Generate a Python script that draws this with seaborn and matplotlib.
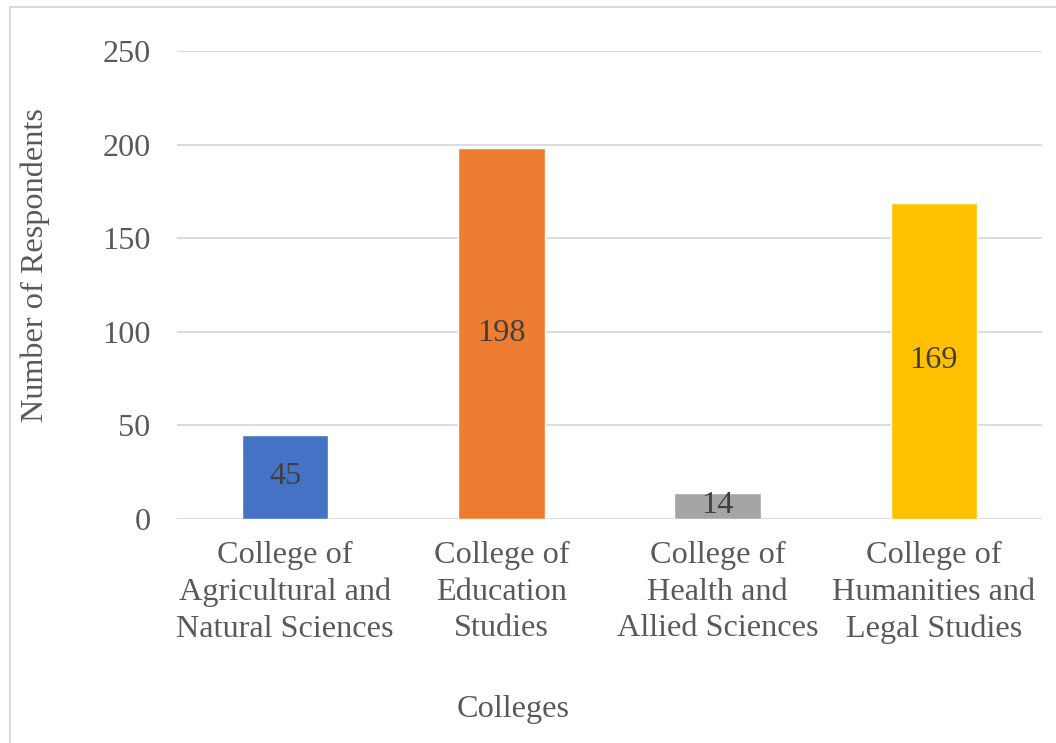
import matplotlib
matplotlib.use("Agg")
import matplotlib.pyplot as plt
import seaborn as sns
import pandas as pd
from matplotlib.patches import Rectangle

categories = ["College of\nAgricultural and\nNatural Sciences",
              "College of\nEducation\nStudies",
              "College of\nHealth and\nAllied Sciences",
              "College of\nHumanities and\nLegal Studies"]
values = [45, 198, 14, 169]
colors = ["#4472C4", "#ED7D31", "#A5A5A5", "#FFC000"]
yticks = [0, 50, 100, 150, 200, 250]

sns.set_theme(style="white")
plt.rcParams['font.family'] = ['Liberation Serif', 'DejaVu Serif']

W, H = 1056, 743
FS = 23.2
fig = plt.figure(figsize=(W/100, H/100), dpi=100)
fig.patch.set_facecolor("white")
fig.patches.append(Rectangle((10/W, -0.2), 1.2, 1.2 - 7/H, transform=fig.transFigure,
                             fill=False, edgecolor="#D9D9D9", linewidth=1.5, zorder=0))

ax = fig.add_axes([177/W, 224/H, 865/W, 468/H])
df = pd.DataFrame({"cat": categories, "val": values})
sns.barplot(data=df, x="cat", y="val", hue="cat", palette=colors, width=0.4,
            legend=False, ax=ax, saturation=1, zorder=3)

ax.set_ylim(0, 250)
ax.set_yticks(yticks)
ax.set_xlim(-0.5, 3.5)
ax.yaxis.grid(True, color="#D9D9D9", linewidth=1.3, zorder=0)
ax.set_axisbelow(True)
for s in ax.spines.values():
    s.set_visible(False)
ax.tick_params(axis="both", length=0, labelsize=FS, colors="#595959")
ax.tick_params(axis="y", pad=19)
ax.tick_params(axis="x", pad=16)
for lab in ax.get_xticklabels():
    lab.set_linespacing(1.34)

for c in ax.containers:
    ax.bar_label(c, label_type="center", fontsize=FS, color="#404040")

ax.set_xlabel("Colleges", fontsize=FS, color="#595959")
ax.xaxis.set_label_coords((513-177)/865, (519-710)/468)
ax.xaxis.label.set_va("center")
ax.set_ylabel("Number of Respondents", fontsize=FS, color="#595959")
ax.yaxis.set_label_coords((35-177)/865, (519-265)/468)
ax.yaxis.label.set_va("center")

fig.savefig("out.png", dpi=100)
